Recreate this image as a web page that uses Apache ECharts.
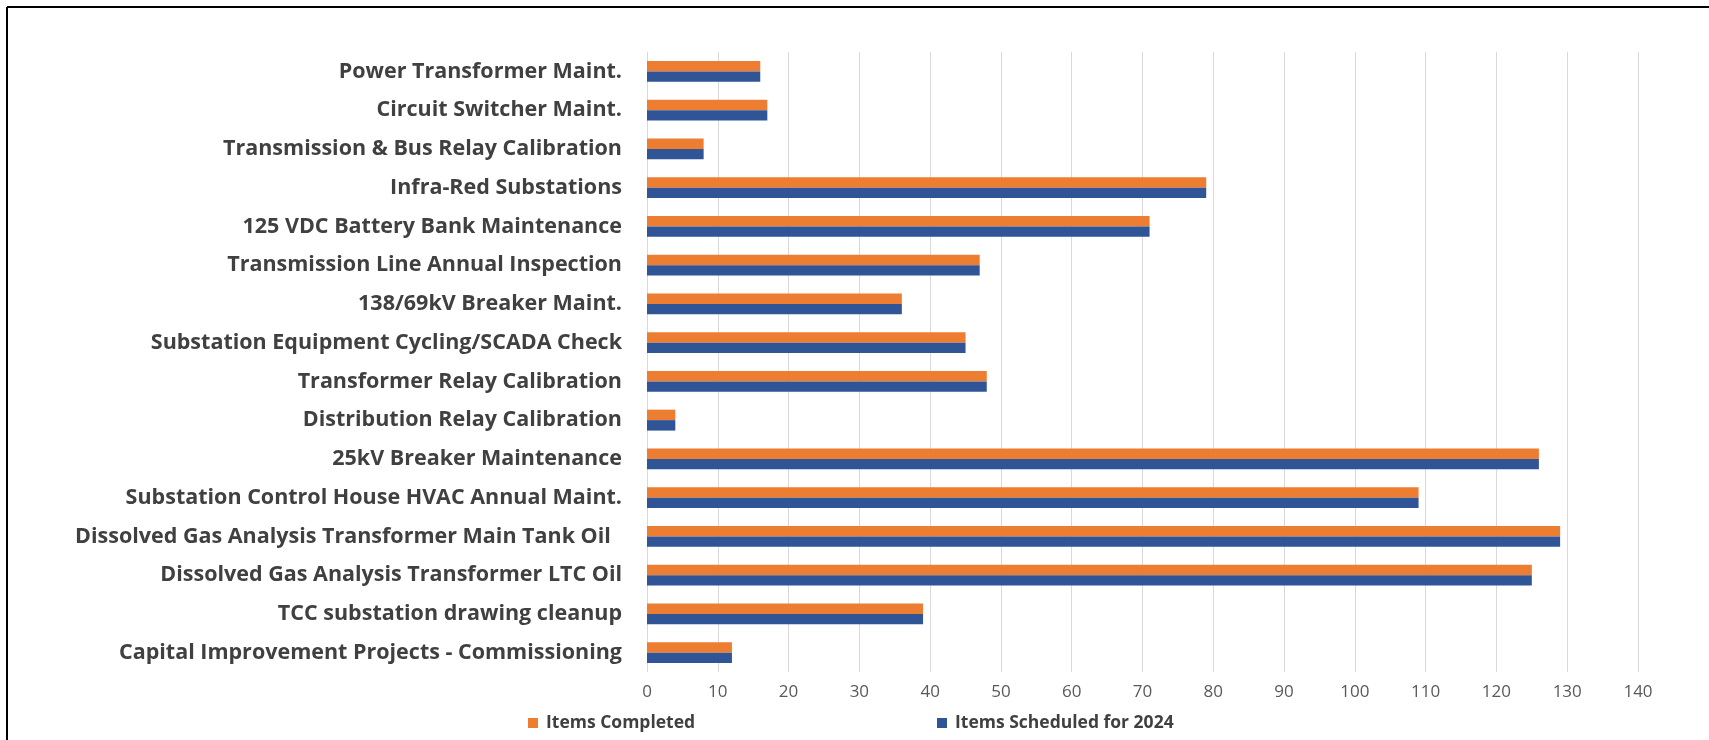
<!DOCTYPE html>
<html>
<head>
<meta charset="utf-8">
<script src="https://cdn.jsdelivr.net/npm/echarts@6/dist/echarts.min.js"></script>
<style>
html,body{margin:0;padding:0;background:#fff;}
#chart{width:1709px;height:740px;}
</style>
</head>
<body>
<div id="chart"></div>
<script>
const categories = [
  "Power Transformer Maint.",
  "Circuit Switcher Maint.",
  "Transmission & Bus Relay Calibration",
  "Infra-Red Substations",
  "125 VDC Battery Bank Maintenance",
  "Transmission Line Annual Inspection",
  "138/69kV Breaker Maint.",
  "Substation Equipment Cycling/SCADA Check",
  "Transformer Relay Calibration",
  "Distribution Relay Calibration",
  "25kV Breaker Maintenance",
  "Substation Control House HVAC Annual Maint.",
  "Dissolved Gas Analysis Transformer Main Tank Oil  ",
  "Dissolved Gas Analysis Transformer LTC Oil",
  "TCC substation drawing cleanup",
  "Capital Improvement Projects - Commissioning"
];
const itemsCompleted = [16, 17, 8, 79, 71, 47, 36, 45, 48, 4, 126, 109, 129, 125, 39, 12];
const itemsScheduled = [16, 17, 8, 79, 71, 47, 36, 45, 48, 4, 126, 109, 129, 125, 39, 12];
const seriesNames = ["Items Completed", "Items Scheduled for 2024"];
const xTicks = {min: 0, max: 140, interval: 10};

const chart = echarts.init(document.getElementById('chart'), null, {renderer: 'canvas'});
chart.setOption({
  animation: false,
  backgroundColor: '#ffffff',
  grid: {left: 647, top: 52, width: 991, height: 620, containLabel: false, outerBoundsMode: 'none'},
  legend: [
    {data: [seriesNames[0]], left: 523, top: 709, icon: 'rect', itemWidth: 10, itemHeight: 10,
     textStyle: {fontFamily: 'Open Sans', fontWeight: 'bold', fontSize: 17.5, color: '#404040', padding: [0,0,0,3]}},
    {data: [seriesNames[1]], left: 932, top: 709, icon: 'rect', itemWidth: 10, itemHeight: 10,
     textStyle: {fontFamily: 'Open Sans', fontWeight: 'bold', fontSize: 17.5, color: '#404040', padding: [0,0,0,3]}}
  ],
  xAxis: {
    type: 'value', min: xTicks.min, max: xTicks.max, interval: xTicks.interval,
    axisLine: {show: false}, axisTick: {show: false},
    axisLabel: {margin: 12, fontFamily: 'Open Sans', fontSize: 17, color: '#595959'},
    splitLine: {show: true, lineStyle: {color: '#d9d9d9', width: 1}}
  },
  yAxis: {
    type: 'category', data: categories, inverse: true,
    axisLine: {show: false}, axisTick: {show: false},
    axisLabel: {margin: 25, fontFamily: 'Open Sans', fontWeight: 'bold', fontSize: 21.5, color: '#404040'}
  },
  series: [
    {name: seriesNames[0], type: 'bar', data: itemsCompleted, barGap: '0%', barCategoryGap: '46%',
     itemStyle: {color: '#ED7D31'}},
    {name: seriesNames[1], type: 'bar', data: itemsScheduled, barGap: '0%', barCategoryGap: '46%',
     itemStyle: {color: '#2F5597'}}
  ],
  graphic: [
    {type: 'line', shape: {x1: 7, y1: 7, x2: 1709, y2: 7}, style: {stroke: '#000', lineWidth: 2}},
    {type: 'line', shape: {x1: 7, y1: 7, x2: 7, y2: 740}, style: {stroke: '#000', lineWidth: 2}}
  ]
});
</script>
</body>
</html>
